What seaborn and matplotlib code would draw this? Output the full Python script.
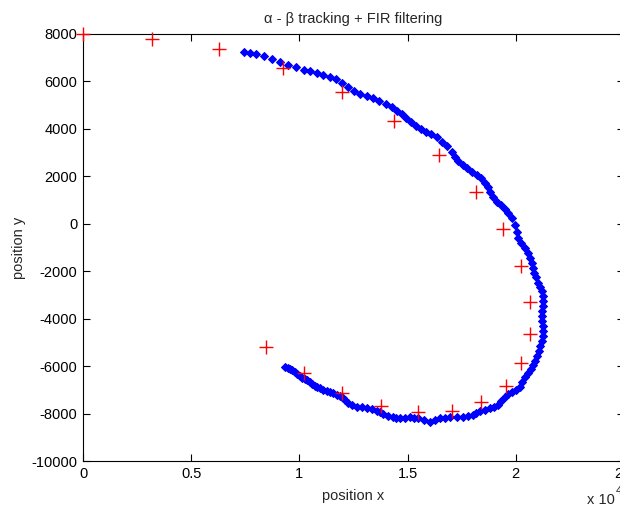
import numpy as np
import pandas as pd
import matplotlib
matplotlib.use("Agg")
import matplotlib.pyplot as plt
import seaborn as sns

# measurements (red +)
meas_x = [0, 3190, 6280, 9240, 11960, 14370, 16440, 18150, 19400, 20230, 20650,
          20650, 20230, 19540, 18380, 17040, 15470, 13760, 11960, 10210, 8450]
meas_y = [8000, 7800, 7370, 6570, 5550, 4330, 2900, 1340, -220, -1780, -3300,
          -4650, -5870, -6840, -7510, -7890, -7940, -7680, -7140, -6290, -5200]

# filtered track (blue)
trk_x = [7440, 7710, 7990, 8360, 8730, 9100, 9470, 9840, 10210, 10490, 10810, 11090,
         11410, 11690, 11960, 12240, 12520, 12790, 13120, 13400, 13670, 14000, 14270,
         14500, 14740, 14920, 15150, 15380, 15610, 15840, 16070, 16350, 16580, 16810,
         17040, 17180, 17320, 17550, 17740, 17970, 18200, 18380, 18570, 18710, 18800,
         18940, 19120, 19310, 19490, 19630, 19820, 19950, 20050, 20090, 20230, 20420,
         20550, 20650, 20740, 20790, 20830, 20920, 21020, 21110, 21200, 21250, 21250,
         21250, 21200, 21200, 21200, 21250, 21250, 21250, 21200, 21110, 21060, 20970,
         20880, 20790, 20690, 20550, 20420, 20280, 20190, 20000, 19820, 19630, 19490,
         19310, 19170, 18980, 18800, 18570, 18340, 18150, 18010, 17780, 17550, 17280,
         16950, 16720, 16490, 16260, 16030, 15750, 15470, 15290, 15100, 14870, 14640,
         14460, 14320, 14090, 13860, 13720, 13580, 13350, 13120, 12890, 12660, 12430,
         12240, 12100, 12010, 11870, 11730, 11550, 11410, 11270, 11090, 10950, 10810,
         10720, 10580, 10490, 10350, 10250, 10120, 10020, 9880, 9790, 9650, 9560,
         9470, 9330]
trk_y = [7240, 7200, 7160, 7070, 6950, 6820, 6690, 6610, 6480, 6440, 6360, 6270,
         6190, 6100, 5930, 5770, 5600, 5470, 5390, 5300, 5180, 5050, 4920,
         4750, 4630, 4460, 4290, 4120, 4000, 3870, 3790, 3660, 3450, 3280,
         3030, 2820, 2650, 2480, 2350, 2180, 2060, 1930, 1720, 1550, 1340,
         1130, 920, 790, 620, 460, 240, -50, -350, -600, -810, -1020,
         -1230, -1440, -1650, -1860, -2070, -2240, -2500, -2660, -2830, -3040, -3250,
         -3460, -3680, -3890, -4100, -4310, -4520, -4730, -4940, -5150, -5360, -5570,
         -5780, -5950, -6120, -6290, -6460, -6670, -6880, -7010, -7090, -7170, -7300,
         -7470, -7640, -7720, -7760, -7850, -7890, -7970, -8060, -8100, -8140, -8140,
         -8140, -8190, -8190, -8270, -8350, -8270, -8190, -8190, -8140, -8190, -8190,
         -8190, -8140, -8100, -8020, -7930, -7890, -7810, -7760, -7720, -7720, -7640,
         -7550, -7430, -7340, -7260, -7220, -7130, -7090, -7050, -7010, -6920, -6880,
         -6840, -6750, -6670, -6580, -6540, -6500, -6420, -6330, -6250, -6160, -6120,
         -6080, -6040]

x_ticks = [0, 5000, 10000, 15000, 20000, 25000]
x_tick_labels = ["0", "0.5", "1", "1.5", "2", "2.5"]
y_ticks = [8000, 6000, 4000, 2000, 0, -2000, -4000, -6000, -8000, -10000]
y_tick_labels = ["8000", "6000", "4000", "2000", "0", "-2000", "-4000", "-6000", "-8000", "-10000"]

title = "\u03b1 - \u03b2 tracking + FIR filtering"
xlabel = "position x"
ylabel = "position y"

sns.set_style("ticks")
plt.rcParams["font.family"] = ["Liberation Sans", "DejaVu Sans"]

fig = plt.figure(figsize=(6.2, 5.11), dpi=100)
ax = fig.add_axes([83 / 620, 50 / 511, 541 / 620, 427 / 511])

trk = pd.DataFrame({"x": trk_x, "y": trk_y})
meas = pd.DataFrame({"x": meas_x, "y": meas_y})

sns.scatterplot(data=trk, x="x", y="y", ax=ax, marker="D", s=16,
                color="#0000ff", edgecolor="#0000ff", linewidth=0.8, zorder=3)
sns.scatterplot(data=meas, x="x", y="y", ax=ax, marker="+", s=90,
                color="#ff0000", linewidth=1.0, zorder=4, clip_on=False)

ax.set_xlim(0, 25000)
ax.set_ylim(-10000, 8000)
ax.set_xticks(x_ticks)
ax.set_xticklabels(x_tick_labels)
ax.set_yticks(y_ticks)
ax.set_yticklabels(y_tick_labels)
ax.tick_params(direction="in", top=True, right=True, length=5, width=0.8,
               labelsize=10.5, colors="black", pad=4)
for sp in ax.spines.values():
    sp.set_visible(True)
    sp.set_color("black")
    sp.set_linewidth(0.8)

ax.set_title(title, fontsize=10.5, pad=8)
ax.set_xlabel(xlabel, fontsize=10.5, labelpad=6)
ax.set_ylabel(ylabel, fontsize=10.5, labelpad=4)

fig.text(587 / 620, 4 / 511, "x 10", fontsize=10.5, ha="left", va="bottom")
fig.text(616 / 620, 15 / 511, "4", fontsize=8, ha="left", va="bottom")

fig.savefig("out.png", dpi=100, facecolor="white")
